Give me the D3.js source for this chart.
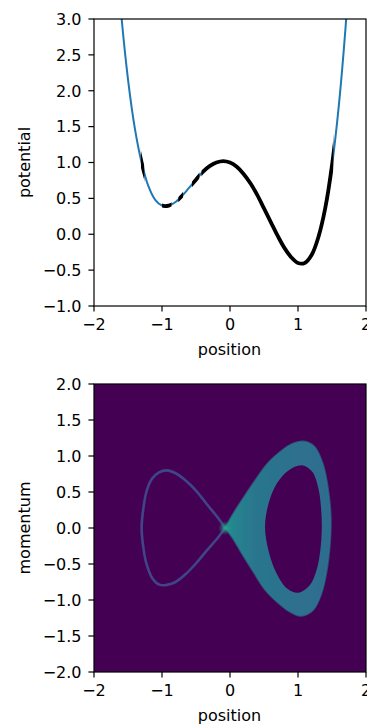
<!DOCTYPE html>
<html>
<head>
<meta charset="utf-8">
<script src="https://cdn.jsdelivr.net/npm/d3@7"></script>
<style>
  body { margin: 0; background: #fff; }
  text { font-family: "DejaVu Sans", sans-serif; font-size: 16px; fill: #000; }
</style>
</head>
<body>
<div class="canvas"></div>
<script>
// potential curve
const positions = [-1.7, -1.6, -1.5, -1.4, -1.3, -1.2, -1.1, -1.0, -0.9, -0.8, -0.7, -0.6, -0.5, -0.4, -0.3, -0.2, -0.1,
    0, 0.1, 0.2, 0.3, 0.4, 0.5, 0.6, 0.7, 0.8, 0.9, 1.0, 1.1, 1.2, 1.3, 1.4, 1.5, 1.6, 1.7, 1.8]
const potential = [4.25, 3.07, 2.16, 1.48, 1.00, 0.67, 0.48, 0.40, 0.40, 0.45, 0.54, 0.65, 0.76, 0.87, 0.95, 1.00, 1.02,
    1.00, 0.94, 0.84, 0.71, 0.55, 0.36, 0.17, -0.02, -0.19, -0.32, -0.40, -0.40, -0.29, -0.04, 0.36, 0.96, 1.79, 2.89, 4.30]

// x ranges where the black trajectory samples sit on the curve
const trajStart = [-1.31, -1.0, -0.76, -0.56, -0.42]
const trajEnd = [-1.26, -0.86, -0.69, -0.45, 1.52]

// phase space loops
const leftLoopX = [-0.07, -0.2, -0.34, -0.5, -0.64, -0.8, -0.93, -1.05, -1.15, -1.23, -1.27, -1.30, -1.27, -1.23, -1.14, -1.03, -0.93, -0.8, -0.64, -0.48, -0.34, -0.2, -0.07]
const leftLoopP = [0, 0.17, 0.33, 0.52, 0.65, 0.76, 0.80, 0.77, 0.68, 0.50, 0.30, 0, -0.30, -0.49, -0.70, -0.79, -0.79, -0.75, -0.63, -0.47, -0.31, -0.16, 0]
const outerLoopX = [-0.07, 0.05, 0.2, 0.35, 0.54, 0.72, 0.9, 1.08, 1.24, 1.36, 1.44, 1.48, 1.47, 1.42, 1.34, 1.22, 1.05, 0.88, 0.70, 0.52, 0.34, 0.18, 0.04, -0.07]
const outerLoopP = [0, 0.2, 0.42, 0.63, 0.88, 1.04, 1.16, 1.20, 1.13, 0.90, 0.55, 0.15, -0.2, -0.6, -0.92, -1.14, -1.22, -1.16, -1.03, -0.86, -0.6, -0.36, -0.14, 0]
const innerLoopX = [0.515, 0.57, 0.69, 0.86, 1.06, 1.21, 1.30, 1.34, 1.35, 1.33, 1.275, 1.17, 1.0, 0.84, 0.68, 0.57]
const innerLoopP = [0.02, 0.35, 0.62, 0.80, 0.87, 0.78, 0.55, 0.27, -0.02, -0.30, -0.58, -0.80, -0.90, -0.84, -0.62, -0.33]

const xTicks = [-2, -1, 0, 1, 2]
const potentialTicks = [-1, -0.5, 0, 0.5, 1, 1.5, 2, 2.5, 3]
const momentumTicks = [-2, -1.5, -1, -0.5, 0, 0.5, 1, 1.5, 2]

const top1 = { left: 94, right: 366, top: 19, bottom: 306 }
const top2 = { left: 94, right: 366, top: 384, bottom: 672 }

const svg = d3.select('.canvas')
    .append('svg')
    .attr('width', 367)
    .attr('height', 724)

const defs = svg.append('defs')

const x = d3.scaleLinear().domain([-2, 2]).range([top1.left, top1.right])
const yPot = d3.scaleLinear().domain([-1, 3]).range([top1.bottom, top1.top])
const yMom = d3.scaleLinear().domain([-2, 2]).range([top2.bottom, top2.top])

const fmt = d => d3.format('.1f')(d).replace('-', '\u2212')
const fmtInt = d => String(d).replace('-', '\u2212')

const drawAxes = (box, y, yTicks, yLabel) => {
    const g = svg.append('g')
    g.append('rect')
        .attr('x', box.left).attr('y', box.top)
        .attr('width', box.right - box.left).attr('height', box.bottom - box.top)
        .attr('fill', 'none').attr('stroke', '#000').attr('stroke-width', 1.2)

    xTicks.forEach(t => {
        g.append('line')
            .attr('x1', x(t)).attr('x2', x(t))
            .attr('y1', box.bottom).attr('y2', box.bottom + 5.6)
            .attr('stroke', '#000').attr('stroke-width', 1.2)
        g.append('text')
            .attr('x', x(t)).attr('y', box.bottom + 24)
            .attr('text-anchor', 'middle')
            .text(fmtInt(t))
    })

    yTicks.forEach(t => {
        g.append('line')
            .attr('x1', box.left - 5.6).attr('x2', box.left)
            .attr('y1', y(t)).attr('y2', y(t))
            .attr('stroke', '#000').attr('stroke-width', 1.2)
        g.append('text')
            .attr('x', box.left - 12.5).attr('y', y(t) + 5.8)
            .attr('text-anchor', 'end')
            .text(fmt(t))
    })

    g.append('text')
        .attr('x', (box.left + box.right) / 2 - 0.5).attr('y', box.bottom + 49)
        .attr('text-anchor', 'middle')
        .text('position')

    g.append('text')
        .attr('transform', `translate(30, ${(box.top + box.bottom) / 2}) rotate(-90)`)
        .attr('text-anchor', 'middle')
        .text(yLabel)
}

// top panel
defs.append('clipPath').attr('id', 'clip1')
    .append('rect')
    .attr('x', top1.left).attr('y', top1.top)
    .attr('width', top1.right - top1.left).attr('height', top1.bottom - top1.top)

const trajClip = defs.append('clipPath').attr('id', 'clipTraj')
trajStart.forEach((s, i) => {
    trajClip.append('rect')
        .attr('x', x(s)).attr('y', top1.top)
        .attr('width', x(trajEnd[i]) - x(s)).attr('height', top1.bottom - top1.top)
})

const potData = positions.map((p, i) => [p, potential[i]])
const potLine = d3.line()
    .x(d => x(d[0]))
    .y(d => yPot(d[1]))
    .curve(d3.curveCatmullRom.alpha(0.5))

const graph1 = svg.append('g').attr('clip-path', 'url(#clip1)')

graph1.append('path')
    .attr('d', potLine(potData))
    .attr('fill', 'none')
    .attr('stroke', '#1f77b4')
    .attr('stroke-width', 2)

graph1.append('g').attr('clip-path', 'url(#clipTraj)')
    .append('path')
    .attr('d', potLine(potData))
    .attr('fill', 'none')
    .attr('stroke', '#000')
    .attr('stroke-width', 3.8)

drawAxes(top1, yPot, potentialTicks, 'potential')

// bottom panel
defs.append('clipPath').attr('id', 'clip2')
    .append('rect')
    .attr('x', top2.left).attr('y', top2.top)
    .attr('width', top2.right - top2.left).attr('height', top2.bottom - top2.top)

const bandGrad = defs.append('linearGradient')
    .attr('id', 'bandGrad')
    .attr('gradientUnits', 'userSpaceOnUse')
    .attr('x1', x(-0.1)).attr('x2', x(1.5))
    .attr('y1', 0).attr('y2', 0)
bandGrad.append('stop').attr('offset', 0).attr('stop-color', d3.interpolateViridis(0.56))
bandGrad.append('stop').attr('offset', 0.1).attr('stop-color', d3.interpolateViridis(0.45))
bandGrad.append('stop').attr('offset', 0.3).attr('stop-color', d3.interpolateViridis(0.39))
bandGrad.append('stop').attr('offset', 1).attr('stop-color', d3.interpolateViridis(0.35))

const glow = defs.append('radialGradient').attr('id', 'glow')
glow.append('stop').attr('offset', 0).attr('stop-color', d3.interpolateViridis(0.62)).attr('stop-opacity', 1)
glow.append('stop').attr('offset', 1).attr('stop-color', d3.interpolateViridis(0.45)).attr('stop-opacity', 0)

defs.append('filter').attr('id', 'soft')
    .append('feGaussianBlur').attr('stdDeviation', 0.6)

const phaseLine = d3.line()
    .x(d => x(d[0]))
    .y(d => yMom(d[1]))
    .curve(d3.curveCatmullRom.alpha(0.5))
const phaseLoop = d3.line()
    .x(d => x(d[0]))
    .y(d => yMom(d[1]))
    .curve(d3.curveCatmullRomClosed.alpha(0.5))

const leftLoop = leftLoopX.map((v, i) => [v, leftLoopP[i]])
const outerLoop = outerLoopX.map((v, i) => [v, outerLoopP[i]])
const innerLoop = innerLoopX.map((v, i) => [v, innerLoopP[i]])

const graph2 = svg.append('g').attr('clip-path', 'url(#clip2)')

graph2.append('rect')
    .attr('x', top2.left).attr('y', top2.top)
    .attr('width', top2.right - top2.left).attr('height', top2.bottom - top2.top)
    .attr('fill', d3.interpolateViridis(0))

const heat = graph2.append('g').attr('filter', 'url(#soft)')

heat.append('path')
    .attr('d', phaseLine(leftLoop))
    .attr('fill', 'none')
    .attr('stroke', d3.interpolateViridis(0.2))
    .attr('stroke-width', 2.6)

heat.append('path')
    .attr('d', phaseLine(outerLoop) + phaseLoop(innerLoop))
    .attr('fill', 'url(#bandGrad)')
    .attr('fill-rule', 'evenodd')

heat.append('path')
    .attr('d', phaseLine(outerLoop))
    .attr('fill', 'none')
    .attr('stroke', d3.interpolateViridis(0.42))
    .attr('stroke-opacity', 0.6)
    .attr('stroke-width', 2)

heat.append('circle')
    .attr('cx', x(-0.07)).attr('cy', yMom(0))
    .attr('r', 7)
    .attr('fill', 'url(#glow)')

drawAxes(top2, yMom, momentumTicks, 'momentum')
</script>
</body>
</html>
